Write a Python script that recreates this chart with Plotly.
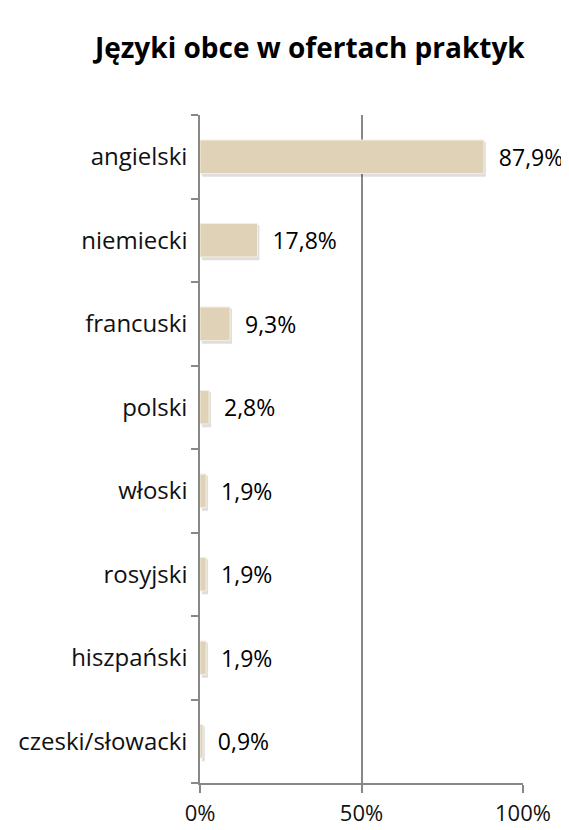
import plotly.graph_objects as go

languages = ["angielski", "niemiecki", "francuski", "polski", "włoski",
             "rosyjski", "hiszpański", "czeski/słowacki"]
shares = [87.9, 17.8, 9.3, 2.8, 1.9, 1.9, 1.9, 0.9]
x_ticks = [0, 50, 100]
x_tick_labels = ["0%", "50%", "100%"]

labels = ["  " + f"{v:.1f}".replace(".", ",") + "%" for v in shares]

fig = go.Figure()

# soft shadow behind the bars (down and to the right)
fig.add_trace(go.Bar(
    y=languages, x=shares, orientation="h", width=0.42, offset=-0.24, base=0.6,
    marker=dict(color="rgba(0,0,0,0.13)", line=dict(width=0)),
    hoverinfo="skip", showlegend=False,
))
fig.add_trace(go.Bar(
    y=languages, x=shares, orientation="h", width=0.4, offset=-0.2,
    marker=dict(color="#DFD2B7", line=dict(color="#F4EEE2", width=1)),
    text=labels, textposition="outside", cliponaxis=False,
    textfont=dict(size=23, color="black"),
    showlegend=False,
))

# page body has an 8px margin, so the figure is sized to fit inside it
fig.update_layout(
    width=561, height=822,
    barmode="overlay",
    plot_bgcolor="white", paper_bgcolor="white",
    font=dict(family="Open Sans, sans-serif", size=24, color="#111111"),
    title=dict(text="<b>Języki obce w ofertach praktyk</b>", x=0.538, xanchor="center",
               y=0.951, yanchor="middle", font=dict(size=28, color="black")),
    margin=dict(l=192, r=46, t=107, b=47, autoexpand=False),
    xaxis=dict(
        range=[0, 100], tickvals=x_ticks, ticktext=x_tick_labels,
        showgrid=True, gridcolor="#888888", gridwidth=1.5,
        showline=True, linecolor="#888888", linewidth=1.5,
        ticks="outside", ticklen=8, tickcolor="#888888", tickwidth=1.5,
        ticklabelstandoff=2, tickfont=dict(size=22), automargin=False,
        zeroline=False, fixedrange=True,
    ),
    yaxis=dict(
        categoryorder="array", categoryarray=languages[::-1],
        showline=True, linecolor="#888888", linewidth=1.5,
        ticks="outside", ticklen=7, tickcolor="#888888", tickwidth=1.5,
        tickson="boundaries", ticklabelstandoff=6, showgrid=False,
        automargin=False,
    ),
)

fig.write_html("out.html")
